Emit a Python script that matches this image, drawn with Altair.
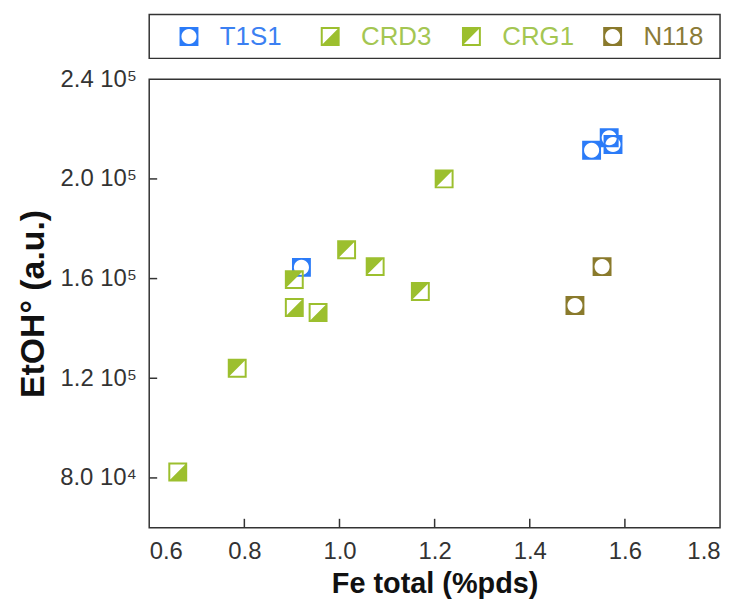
import math
import altair as alt
import pandas as pd

# ---- data ----
series_names = ["T1S1", "CRD3", "CRG1", "N118"]

t1s1_fe = [0.92, 1.53, 1.567, 1.575]
t1s1_etoh = [164500, 211500, 216500, 213800]

crd3_fe = [0.66, 0.905, 0.955]
crd3_etoh = [82400, 148400, 146400]

crg1_fe = [0.785, 0.905, 1.015, 1.075, 1.17, 1.22]
crg1_etoh = [124000, 159600, 171600, 164800, 154800, 200000]

n118_fe = [1.495, 1.552]
n118_etoh = [149200, 164800]

x_labels = [0.6, 0.8, 1.0, 1.2, 1.4, 1.6, 1.8]
y_labels = [80000, 120000, 160000, 200000, 240000]
x_inner_ticks = [0.8, 1.0, 1.2, 1.4, 1.6]
y_inner_ticks = [80000, 120000, 160000, 200000]

marker_colors = ["#2b7bf8", "#9cbf2e", "#9cbf2e", "#8a7a2c"]
text_colors = ["#3b80f2", "#a4c652", "#a4c652", "#8b7b37"]


# ---- marker shapes (single paths, holes by reversed winding) ----
def poly(pts):
    return "M" + " L".join(f"{x:.3f},{y:.3f}" for x, y in pts) + " Z"


outer = [(-1, -1), (1, -1), (1, 1), (-1, 1)]
w = 0.79
inner_ccw = [(-w, -w), (-w, w), (w, w), (w, -w)]
r = 0.8
circle_ccw = [(r * math.cos(-2 * math.pi * k / 24), r * math.sin(-2 * math.pi * k / 24)) for k in range(24)]
tri_lower_right = [(w, -w), (w, w), (-w, w)]
tri_upper_left = [(-w, -w), (w, -w), (-w, w)]

shape_ring_circle = poly(outer) + " " + poly(circle_ccw)
shape_crd3 = poly(outer) + " " + poly(inner_ccw) + " " + poly(tri_lower_right)
shape_crg1 = poly(outer) + " " + poly(inner_ccw) + " " + poly(tri_upper_left)
shape_paths = [shape_ring_circle, shape_crd3, shape_crg1, shape_ring_circle]

rows = []
for name, xs, ys in [
    ("T1S1", t1s1_fe, t1s1_etoh),
    ("CRD3", crd3_fe, crd3_etoh),
    ("CRG1", crg1_fe, crg1_etoh),
    ("N118", n118_fe, n118_etoh),
]:
    for xv, yv in zip(xs, ys):
        rows.append({"series": name, "Fe": xv, "EtOH": yv})
df = pd.DataFrame(rows)

FONT = "Liberation Sans"
PW, PH = 574, 451

shape_scale = alt.Scale(domain=series_names, range=shape_paths)
color_scale = alt.Scale(domain=series_names, range=marker_colors)
x_scale = alt.Scale(domain=[0.6, 1.8], nice=False, zero=False)
y_scale = alt.Scale(domain=[60000, 240000], nice=False, zero=False)

y_label_expr = (
    "datum.value >= 100000 ? format(datum.value/100000, '.1f') + ' 10\u2075' "
    ": format(datum.value/10000, '.1f') + ' 10\u2074'"
)

points = alt.Chart(df).mark_point(filled=True, size=361, opacity=1, strokeWidth=0).encode(
    x=alt.X(
        "Fe:Q",
        scale=x_scale,
        axis=alt.Axis(
            values=x_labels,
            format=".1f",
            labelFontSize=24,
            labelPadding=12,
            title="Fe total (%pds)",
            titleFontSize=29,
            titleFontWeight="bold",
            titlePadding=6,
        ),
    ),
    y=alt.Y(
        "EtOH:Q",
        scale=y_scale,
        axis=alt.Axis(
            values=y_labels,
            labelExpr=y_label_expr,
            labelFontSize=24,
            labelPadding=13,
            title="EtOH\u00b0 (a.u.)",
            titleFontSize=34,
            titleFontWeight="bold",
            titlePadding=9,
        ),
    ),
    shape=alt.Shape("series:N", scale=shape_scale, legend=None),
    color=alt.Color("series:N", scale=color_scale, legend=None),
)

ytick_rules = alt.Chart(pd.DataFrame({"EtOH": y_inner_ticks})).mark_rule(
    color="#333333", strokeWidth=1.5
).encode(y=alt.Y("EtOH:Q", scale=y_scale), x=alt.value(0), x2=alt.value(8))

xtick_rules = alt.Chart(pd.DataFrame({"Fe": x_inner_ticks})).mark_rule(
    color="#333333", strokeWidth=1.5
).encode(x=alt.X("Fe:Q", scale=x_scale), y=alt.value(PH), y2=alt.value(PH - 9))

main = alt.layer(ytick_rules, xtick_rules, points).properties(width=PW, height=PH)

# ---- legend as its own small panel ----
leg_df = pd.DataFrame({"series": series_names, "tcolor": text_colors})
leg_x = alt.X(
    "series:N",
    sort=series_names,
    axis=None,
    scale=alt.Scale(type="point", range=[40, 466], padding=0),
)
leg_icons = alt.Chart(leg_df).mark_point(filled=True, size=361, opacity=1, strokeWidth=0).encode(
    x=leg_x,
    y=alt.value(22),
    shape=alt.Shape("series:N", scale=shape_scale, legend=None),
    color=alt.Color("series:N", scale=color_scale, legend=None),
)
leg_text = alt.Chart(leg_df).mark_text(
    align="left", baseline="middle", dx=31, fontSize=26, font=FONT
).encode(
    x=leg_x,
    y=alt.value(23),
    text="series:N",
    color=alt.Color("tcolor:N", scale=None),
)
legend = alt.layer(leg_icons, leg_text).properties(width=PW, height=44)

chart = (
    alt.vconcat(legend, main, spacing=21, bounds="flush")
    .properties(padding={"left": 8, "top": 4, "right": 5, "bottom": 2}, background="white")
    .configure_view(stroke="#333333", strokeWidth=1.5)
    .configure_axis(
        grid=False,
        domain=False,
        ticks=False,
        labelFont=FONT,
        titleFont=FONT,
        labelColor="#333333",
        titleColor="#111111",
    )
)

chart.save("out.html", embed_options={"renderer": "svg", "actions": False})
